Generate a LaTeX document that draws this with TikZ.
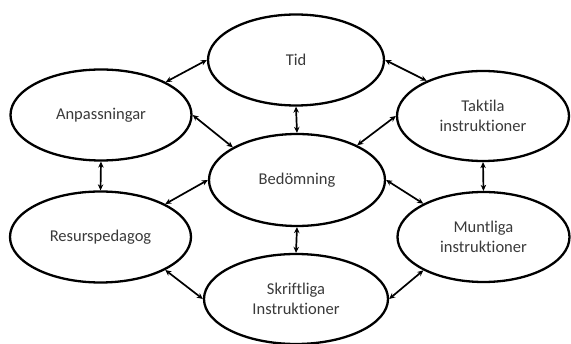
\documentclass[tikz,border=0pt]{standalone}
\usepackage{fontspec}
\setmainfont{Carlito}[Ligatures=NoCommon]
\usetikzlibrary{shapes.geometric,arrows.meta}
\definecolor{txt}{HTML}{3A3A3A}
\begin{document}
\begin{tikzpicture}[x=1pt,y=-1pt,
  oval/.style={ellipse,draw=black,line width=2.3pt,fill=white,inner sep=0pt,align=center,
    font=\fontsize{16.5}{20}\selectfont,text=txt},
  link/.style={line width=1.7pt,{Stealth[length=6pt,width=5.5pt]}-{Stealth[length=6pt,width=5.5pt]}}]
\useasboundingbox (0,0) rectangle (571,344);
\node[oval,minimum width=176pt,minimum height=91pt] (tid) at (296,60) {Tid};
\node[oval,minimum width=181pt,minimum height=91pt] (anp) at (101,115) {Anpassningar};
\node[oval,minimum width=172pt,minimum height=90pt] (tak) at (483,116) {Taktila\\instruktioner};
\node[oval,minimum width=176pt,minimum height=92pt] (bed) at (297,180) {Bedömning};
\node[oval,minimum width=181pt,minimum height=91pt] (res) at (100.5,237) {Resurspedagog};
\node[oval,minimum width=172pt,minimum height=90pt] (mun) at (483.5,237) {Muntliga\\instruktioner};
\node[oval,minimum width=184pt,minimum height=90pt] (skr) at (296,299) {Skriftliga\\Instruktioner};

\draw[link] (anp.27) -- (tid.180);
\draw[link] (tid.0) -- (tak.148);
\draw[link] (tid.270) -- (bed.90);
\draw[link] (anp.0) -- (bed.153);
\draw[link] (tak.180) -- (bed.30);
\draw[link] (anp.270) -- (res.90);
\draw[link] (tak.270) -- (mun.90);
\draw[link] (bed.180) -- (res.27);
\draw[link] (bed.0) -- (mun.151);
\draw[link] (bed.270) -- (skr.90);
\draw[link] (res.333) -- (skr.180);
\draw[link] (skr.0) -- (mun.209);
\end{tikzpicture}
\end{document}
